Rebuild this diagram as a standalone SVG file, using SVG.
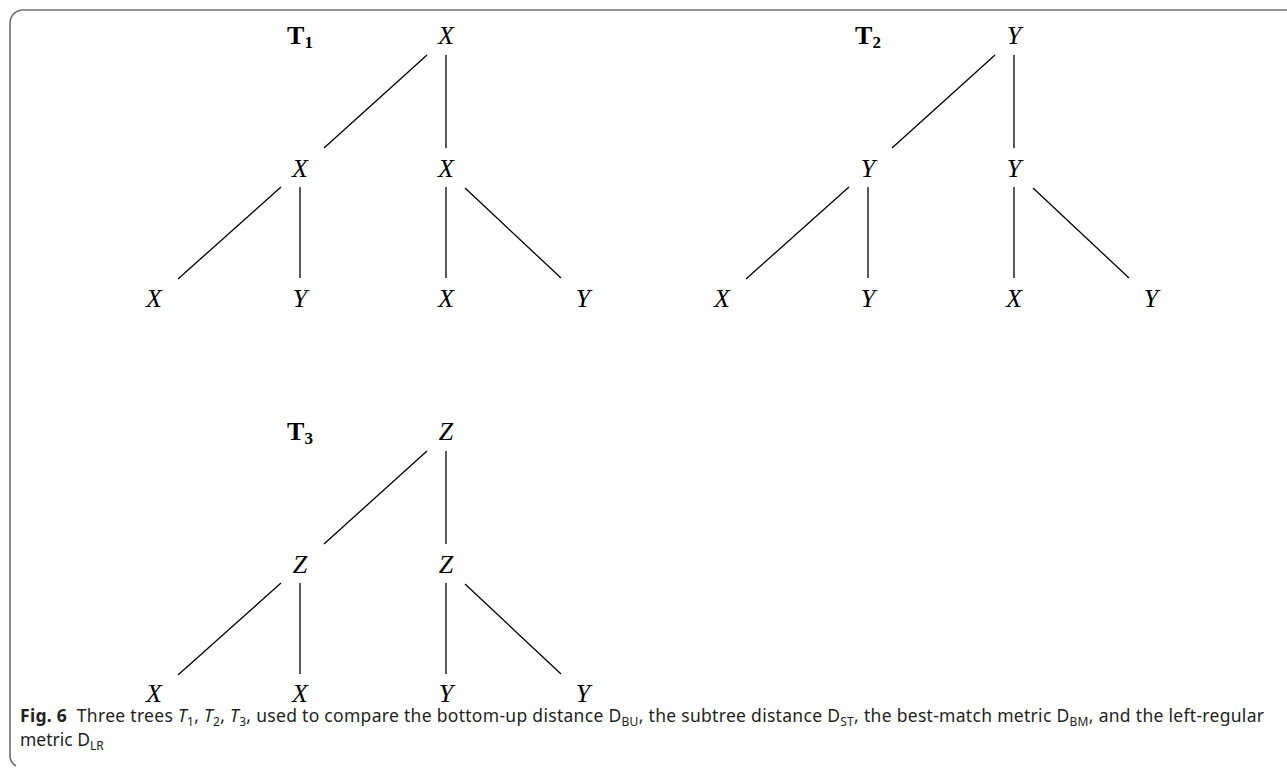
<svg xmlns="http://www.w3.org/2000/svg" width="1287" height="768" viewBox="0 0 1287 768">
<style>
.frame{fill:none;stroke:#6e6e6e;stroke-width:1.6}
.edge{stroke:#000;stroke-width:1.3;fill:none}
.lbl{font-family:"Liberation Serif",serif;font-style:italic;font-size:26px;fill:#000;text-anchor:middle}
.tl{font-family:"Liberation Serif",serif;font-weight:bold;font-size:26px;fill:#000;text-anchor:middle}
.tsub{font-size:17px}
.cap{font-family:"Noto Sans","Liberation Sans",sans-serif;font-size:17.5px;fill:#231f20}
.sub{font-size:12px}
</style>
<rect width="1287" height="768" fill="#fff"/>
<path class="frame" d="M1287,10 H23 A13,13 0 0 0 10,23 V754 A13,13 0 0 0 16,766"/>

<g id="connectors">
  <!-- T1 -->
  <line class="edge" x1="427" y1="55" x2="324" y2="148"/>
  <line class="edge" x1="446" y1="55" x2="446" y2="148"/>
  <line class="edge" x1="281" y1="187" x2="178" y2="279"/>
  <line class="edge" x1="300" y1="187" x2="300" y2="278"/>
  <line class="edge" x1="446" y1="187" x2="446" y2="278"/>
  <line class="edge" x1="465" y1="188" x2="561" y2="278"/>
  <!-- T2 -->
  <line class="edge" x1="995" y1="55" x2="892" y2="148"/>
  <line class="edge" x1="1014" y1="55" x2="1014" y2="148"/>
  <line class="edge" x1="849" y1="187" x2="746" y2="279"/>
  <line class="edge" x1="868" y1="187" x2="868" y2="278"/>
  <line class="edge" x1="1014" y1="187" x2="1014" y2="278"/>
  <line class="edge" x1="1033" y1="188" x2="1129" y2="278"/>
  <!-- T3 -->
  <line class="edge" x1="427" y1="451" x2="324" y2="544"/>
  <line class="edge" x1="446" y1="451" x2="446" y2="544"/>
  <line class="edge" x1="281" y1="583" x2="178" y2="675"/>
  <line class="edge" x1="300" y1="583" x2="300" y2="674"/>
  <line class="edge" x1="446" y1="583" x2="446" y2="674"/>
  <line class="edge" x1="465" y1="584" x2="561" y2="674"/>
</g>

<g id="tree1">
  <text class="tl" x="300" y="44">T<tspan class="tsub" dy="4">1</tspan></text>
  <g id="t1-root"><text class="lbl" x="446" y="44">X</text></g>
  <g id="t1-a"><text class="lbl" x="300" y="177">X</text></g>
  <g id="t1-b"><text class="lbl" x="446" y="177">X</text></g>
  <g id="t1-a1"><text class="lbl" x="154" y="307">X</text></g>
  <g id="t1-a2"><text class="lbl" x="300" y="307">Y</text></g>
  <g id="t1-b1"><text class="lbl" x="446" y="307">X</text></g>
  <g id="t1-b2"><text class="lbl" x="583" y="307">Y</text></g>
</g>

<g id="tree2">
  <text class="tl" x="868" y="44">T<tspan class="tsub" dy="4">2</tspan></text>
  <g id="t2-root"><text class="lbl" x="1014" y="44">Y</text></g>
  <g id="t2-a"><text class="lbl" x="868" y="177">Y</text></g>
  <g id="t2-b"><text class="lbl" x="1014" y="177">Y</text></g>
  <g id="t2-a1"><text class="lbl" x="722" y="307">X</text></g>
  <g id="t2-a2"><text class="lbl" x="868" y="307">Y</text></g>
  <g id="t2-b1"><text class="lbl" x="1014" y="307">X</text></g>
  <g id="t2-b2"><text class="lbl" x="1151" y="307">Y</text></g>
</g>

<g id="tree3">
  <text class="tl" x="300" y="440">T<tspan class="tsub" dy="4">3</tspan></text>
  <g id="t3-root"><text class="lbl" x="446" y="440">Z</text></g>
  <g id="t3-a"><text class="lbl" x="300" y="573">Z</text></g>
  <g id="t3-b"><text class="lbl" x="446" y="573">Z</text></g>
  <g id="t3-a1"><text class="lbl" x="154" y="702">X</text></g>
  <g id="t3-a2"><text class="lbl" x="300" y="702">X</text></g>
  <g id="t3-b1"><text class="lbl" x="446" y="702">Y</text></g>
  <g id="t3-b2"><text class="lbl" x="583" y="702">Y</text></g>
</g>

<g id="caption">
  <text class="cap" x="20" y="722" textLength="1244" lengthAdjust="spacing"><tspan font-weight="bold">Fig. 6</tspan>&#160; Three trees <tspan font-style="italic">T</tspan><tspan class="sub" dy="4">1</tspan><tspan dy="-4">, </tspan><tspan font-style="italic">T</tspan><tspan class="sub" dy="4">2</tspan><tspan dy="-4">, </tspan><tspan font-style="italic">T</tspan><tspan class="sub" dy="4">3</tspan><tspan dy="-4">, used to compare the bottom-up distance D</tspan><tspan class="sub" dy="4">BU</tspan><tspan dy="-4">, the subtree distance D</tspan><tspan class="sub" dy="4">ST</tspan><tspan dy="-4">, the best-match metric D</tspan><tspan class="sub" dy="4">BM</tspan><tspan dy="-4">, and the left-regular</tspan></text>
  <text class="cap" x="20" y="746">metric D<tspan class="sub" dy="4">LR</tspan></text>
</g>
</svg>
